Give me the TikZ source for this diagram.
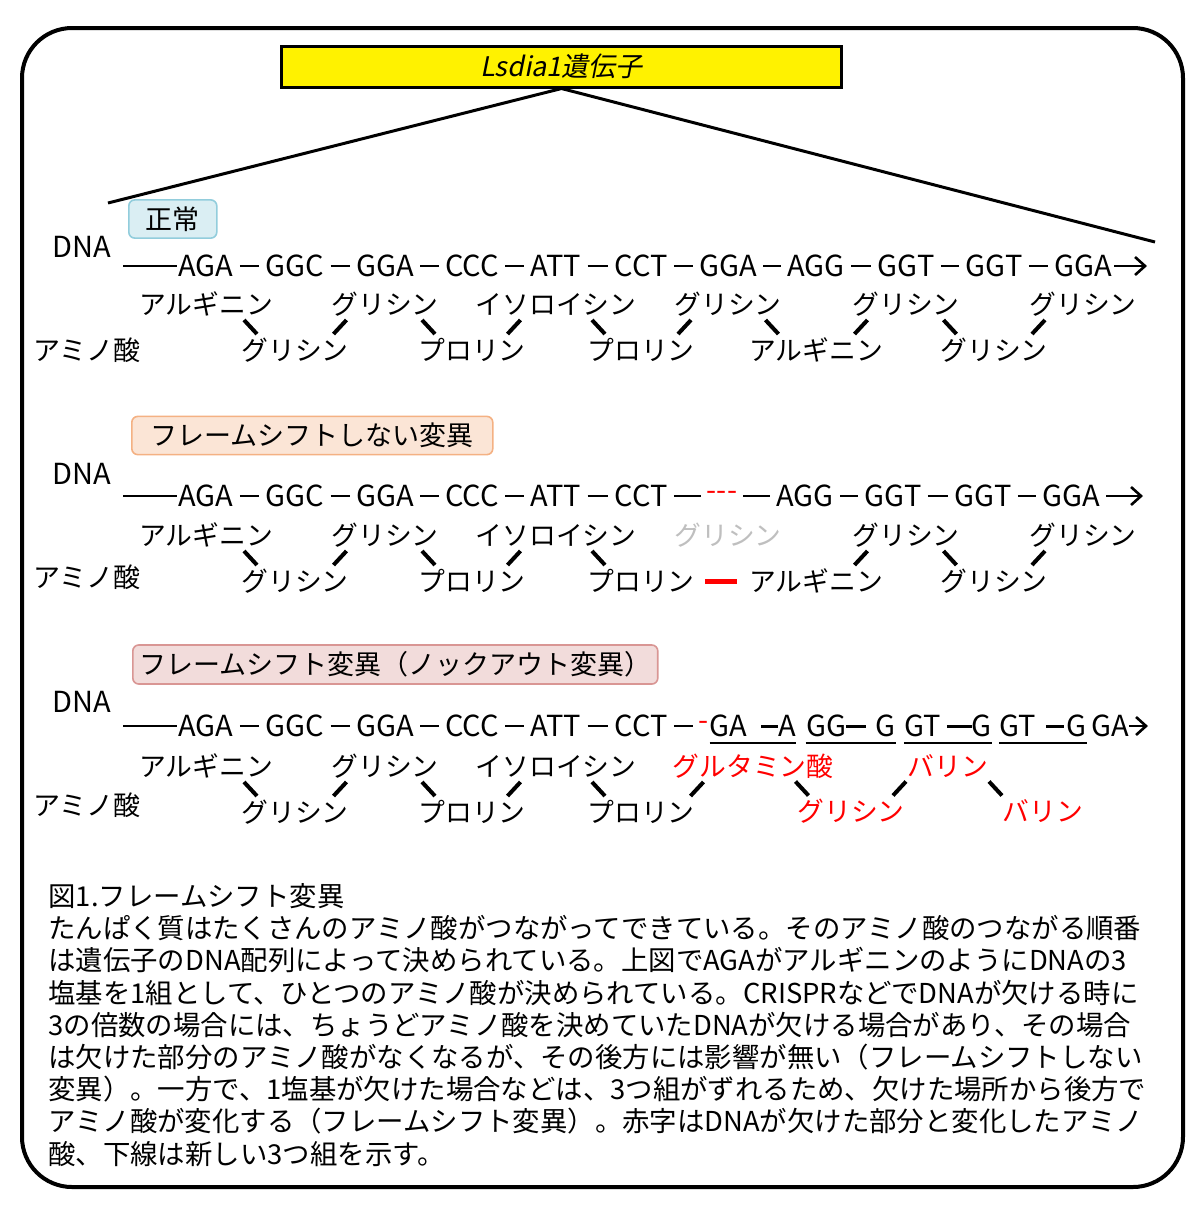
\documentclass[tikz,border=0pt]{standalone}
\usepackage{fontspec}
\setmainfont{Noto Sans CJK JP}
\newfontfamily\slantjp[FakeSlant=0.2]{Noto Sans CJK JP}
\usepackage{tikz}
\usetikzlibrary{arrows.meta, positioning, calc}
\definecolor{normalfill}{RGB}{218, 238, 243}
\definecolor{normalborder}{RGB}{146, 205, 220}
\definecolor{keepfill}{RGB}{251, 229, 214}
\definecolor{keepborder}{RGB}{244, 177, 131}
\definecolor{shiftfill}{RGB}{242, 220, 219}
\definecolor{shiftborder}{RGB}{217, 150, 148}
\definecolor{lostgray}{RGB}{191, 191, 191}
\newcommand{\bondrule}[1]{\rule[0.3em]{#1}{1.3pt}}
\tikzstyle{codon} = [inner sep=0pt, font=\fontsize{14.5}{17}\selectfont]
\tikzstyle{amino} = [inner sep=0pt, font=\fontsize{13.4}{16}\selectfont]
\tikzstyle{side} = [inner sep=0pt, anchor=west, font=\fontsize{13.5}{16}\selectfont]
\tikzstyle{casebox} = [rectangle, rounded corners=3pt, line width=0.8pt, minimum height=19pt,
                       anchor=west, font=\fontsize{13.5}{16}\selectfont]
\tikzstyle{bond} = [line width=1.3pt, shorten <=3pt, shorten >=3pt]
\tikzstyle{tie} = [line width=2pt]
\tikzstyle{dnaarrow} = [-{Straight Barb[length=5pt, width=9pt]}]

\begin{document}
\begin{tikzpicture}[x=0.5pt, y=-0.5pt]
    \useasboundingbox (0,0) rectangle (1200,1207);
    \draw[line width=2pt, rounded corners=25pt] (22,28) rectangle (1183,1187);

    % gene
    \node[draw, line width=1.5pt, fill=yellow, minimum width=280pt, minimum height=20.5pt,
          font=\fontsize{13.5}{16}\selectfont] (gene) at (561.5,66.5) {\slantjp Lsdia1遺伝子};
    \coordinate (zoomL) at (108,203);
    \coordinate (zoomR) at (1155,242);
    \draw[line width=1.5pt] (zoomL) -- (gene.south) -- (zoomR);

    % normal
    \node[casebox, fill=normalfill, draw=normalborder, minimum width=44pt] (case1) at (128,219) {正常};
    \node[side, font=\fontsize{14.5}{17}\selectfont] (dna1) at (52,247) {DNA};
    \node[side] (aa1) at (33,350) {アミノ酸};
    \foreach \c/\x [count=\i] in {AGA/206,GGC/295,GGA/385,CCC/472,ATT/556,CCT/641,GGA/728,AGG/816,GGT/906,GGT/994,GGA/1083}
        \node[codon] (p\i) at (\x,266) {\c};
    \coordinate (p0) at (123,266);
    \coordinate (pend) at (1147,266);
    \draw[bond, shorten <=0pt, shorten >=0.5pt] (p0) -- (p1);
    \foreach \i [evaluate=\i as \j using int(\i+1)] in {1,...,10}
        \draw[bond] (p\i) -- (p\j);
    \draw[bond, dnaarrow, shorten <=1pt, shorten >=0pt] (p11) -- (pend);
    \foreach \i/\name in {1/アルギニン,3/グリシン,5/イソロイシン,7/グリシン,9/グリシン,11/グリシン}
        \node[amino] (pa\i) at ([yshift=-19pt]p\i) {\name};
    \foreach \i/\name in {2/グリシン,4/プロリン,6/プロリン,8/アルギニン,10/グリシン}
        \node[amino] (pa\i) at ([yshift=-42pt]p\i) {\name};
    \foreach \i/\s [evaluate=\i as \j using int(\i+1)] in {1/1,2/-1,3/1,4/-1,5/1,6/-1,7/1,8/-1,9/1,10/-1} {
        \coordinate (m) at ($(pa\i)!.5!(pa\j)$);
        \draw[tie] ([shift={(-6.5,-7*\s)}]m) -- ([shift={(6.5,7*\s)}]m);
    }

    % in-frame deletion
    \node[casebox, fill=keepfill, draw=keepborder, minimum width=180.5pt] (case2) at (131,435.5) {フレームシフトしない変異};
    \node[side, font=\fontsize{14.5}{17}\selectfont] (dna2) at (52,474) {DNA};
    \node[side] (aa2) at (33,577) {アミノ酸};
    \foreach \c/\x [count=\i] in {AGA/206,GGC/295,GGA/385,CCC/472,ATT/556,CCT/641}
        \node[codon] (q\i) at (\x,496) {\c};
    \node[codon, text=red] (q7) at (722,496) {-{}-{}-};
    \foreach \c/\x [count=\i from 8] in {AGG/805,GGT/893,GGT/983,GGA/1071}
        \node[codon] (q\i) at (\x,496) {\c};
    \coordinate (q0) at (123,496);
    \coordinate (qend) at (1143,496);
    \draw[bond, shorten <=0pt, shorten >=0.5pt] (q0) -- (q1);
    \foreach \i [evaluate=\i as \j using int(\i+1)] in {1,...,10}
        \draw[bond] (q\i) -- (q\j);
    \draw[bond, dnaarrow, shorten >=0pt] (q11) -- (qend);
    \foreach \i/\name in {1/アルギニン,2/グリシン,3/グリシン,4/プロリン,5/イソロイシン,6/プロリン,8/アルギニン,9/グリシン,10/グリシン,11/グリシン}
        \node[amino] (qa\i) at ([yshift=-115.5pt]pa\i) {\name};
    \node[amino, text=lostgray] (qa7) at ([yshift=-115.5pt]pa7) {グリシン};
    \draw[red, line width=2.5pt, shorten <=5pt, shorten >=6pt] (qa6) -- (qa8);
    \foreach \i/\s [evaluate=\i as \j using int(\i+1)] in {1/1,2/-1,3/1,4/-1,5/1,8/-1,9/1,10/-1} {
        \coordinate (m) at ($(qa\i)!.5!(qa\j)$);
        \draw[tie] ([shift={(-6.5,-7*\s)}]m) -- ([shift={(6.5,7*\s)}]m);
    }

    % frameshift
    \node[casebox, fill=shiftfill, draw=shiftborder, minimum width=262pt] (case3) at (132,664.5) {フレームシフト変異（ノックアウト変異）};
    \node[side, font=\fontsize{14.5}{17}\selectfont] (dna3) at (52,702) {DNA};
    \node[side] (aa3) at (33,805) {アミノ酸};
    \foreach \c/\x [count=\i] in {AGA/206,GGC/295,GGA/385,CCC/472,ATT/556,CCT/641}
        \node[codon] (r\i) at (\x,726) {\c};
    \node[codon, text=red] (r7) at (704,726) {-};
    \node[codon] (r8) at (753,726) {GA\hspace{7pt}\bondrule{8.5pt}A};
    \node[codon] (r9) at (851,726) {GG\bondrule{10pt}\hspace{5pt}G};
    \node[codon] (r10) at (948,726) {GT\hspace{3pt}\bondrule{12.5pt}G};
    \node[codon] (r11) at (1043,726) {GT\hspace{5pt}\bondrule{9pt}\hspace{1.5pt}G};
    \node[codon] (r12) at (1110,726) {GA};
    \coordinate (r0) at (123,726);
    \coordinate (rend) at (1148,726);
    \draw[bond, shorten <=0pt, shorten >=0.5pt] (r0) -- (r1);
    \foreach \i [evaluate=\i as \j using int(\i+1)] in {1,...,6}
        \draw[bond] (r\i) -- (r\j);
    \draw[bond, dnaarrow, shorten <=0pt, shorten >=0pt] (r12) -- (rend);
    \foreach \i in {8,...,11}
        \draw[line width=1pt] ([yshift=-3pt]r\i.south west) -- ([yshift=-3pt]r\i.south east);
    \foreach \i/\name in {1/アルギニン,2/グリシン,3/グリシン,4/プロリン,5/イソロイシン,6/プロリン}
        \node[amino] (ra\i) at ([yshift=-231pt]pa\i) {\name};
    \node[amino, text=red] (ra7) at ([yshift=-20pt]r8) {グルタミン酸};
    \node[amino, text=red] (ra8) at ([yshift=-42.5pt]r9) {グリシン};
    \node[amino, text=red] (ra9) at ([yshift=-20pt]r10) {バリン};
    \node[amino, text=red] (ra10) at ([yshift=-42.5pt]r11) {バリン};
    \foreach \i/\s [evaluate=\i as \j using int(\i+1)] in {1/1,2/-1,3/1,4/-1,5/1,6/-1,7/1,8/-1,9/1} {
        \coordinate (m) at ($(ra\i)!.5!(ra\j)$);
        \draw[tie] ([shift={(-6.5,-7*\s)}]m) -- ([shift={(6.5,7*\s)}]m);
    }

    % caption
    \node[anchor=north west, inner sep=0pt, align=left, font=\fontsize{13.7}{16.1}\selectfont] (caption) at (48,883) {%
        図1.フレームシフト変異\\
        たんぱく質はたくさんのアミノ酸がつながってできている。そのアミノ酸のつながる順番\\
        は遺伝子のDNA配列によって決められている。上図でAGAがアルギニンのようにDNAの3\\
        塩基を1組として、ひとつのアミノ酸が決められている。CRISPRなどでDNAが欠ける時に\\
        3の倍数の場合には、ちょうどアミノ酸を決めていたDNAが欠ける場合があり、その場合\\
        は欠けた部分のアミノ酸がなくなるが、その後方には影響が無い（フレームシフトしない\\
        変異）。一方で、1塩基が欠けた場合などは、3つ組がずれるため、欠けた場所から後方で\\
        アミノ酸が変化する（フレームシフト変異）。赤字はDNAが欠けた部分と変化したアミノ\\
        酸、下線は新しい3つ組を示す。};
\end{tikzpicture}
\end{document}
